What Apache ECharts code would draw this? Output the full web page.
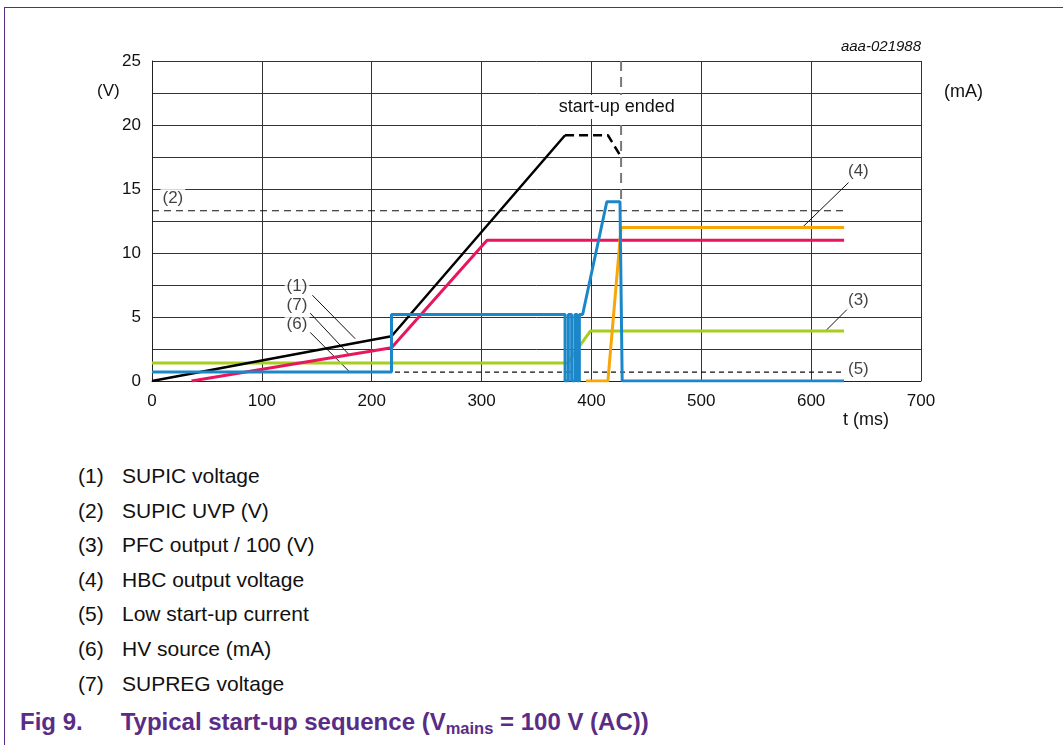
<!DOCTYPE html>
<html>
<head>
<meta charset="utf-8">
<script src="https://cdn.jsdelivr.net/npm/echarts@6/dist/echarts.min.js"></script>
<style>
  body { margin: 0; background: #fff; font-family: "Liberation Sans", Arial, sans-serif; }
  #frame { position: absolute; left: 4px; top: 7px; width: 1070px; height: 740px;
           border-top: 1px solid #5b2c86; border-left: 1px solid #5b2c86; }
  #chart { position: absolute; left: 0; top: 0; width: 1063px; height: 445px; }
  .notes { position: absolute; left: 78px; top: 464px; font-size: 21px; color: #111; }
  .notes div { height: 34.6px; white-space: nowrap; }
  .notes span { display: inline-block; width: 44px; }
  #caption { position: absolute; left: 20px; top: 708px; font-size: 24px; font-weight: bold;
             color: #5b2c86; white-space: nowrap; }
  #caption sub { font-size: 16.5px; vertical-align: -4px; }
</style>
</head>
<body>
<div id="frame"></div>
<div id="chart"></div>
<div class="notes" id="notes"></div>
<div id="caption">Fig 9.<span style="display:inline-block;width:38px"></span>Typical start-up sequence (V<sub>mains</sub> = 100 V (AC))</div>
<script>
// time axis (ms), voltage axis (V / mA)
var timeTicks = [0, 100, 200, 300, 400, 500, 600, 700];
var voltTicks = [0, 5, 10, 15, 20, 25];

// curves, [t (ms), value]
var supicVoltage = [[0, 0], [218, 3.5], [376, 19.2]];
var supicVoltageEnd = [[376, 19.2], [415, 19.2], [427, 17.5]];
var supregVoltage = [[36, 0], [218, 2.6], [305, 11], [630, 11]];
var pfcOutput = [[0, 1.4], [378, 1.4], [399, 3.9], [630, 3.9]];
var hbcOutput = [[395, 0], [415, 0], [427, 12], [630, 12]];
var hvSource = [[0, 0.7], [218, 0.7], [218, 5.2], [376, 5.2], [376, 0], [379, 0], [379, 5.2],
                [382, 5.2], [382, 0], [385, 0], [385, 5.2], [387, 5.2], [387, 0], [389, 0],
                [389, 5.2], [392, 5.2], [414, 14], [426, 14], [428, 0], [630, 0]];
var supicUvp = [[0, 13.3], [630, 13.3]];
var lowStartCurrent = [[0, 0.7], [630, 0.7]];
var startupEnded = [[427, 25], [427, 14]];
var startupEndedLabel = [423, 21.4];

// callouts
var calloutText = ['(1)', '(7)', '(6)', '(2)', '(4)', '(3)', '(5)'];
var calloutPos = [[132, 7.4], [132, 5.9], [132, 4.4], [19, 14.3], [643, 16.4], [643, 6.3], [643, 0.94]];
var leaderLines = [
  [[146, 6.7], [185, 3.3]],
  [[144, 5.3], [180, 2.0]],
  [[144, 3.8], [180, 0.7]],
  [[634, 15.5], [592, 12]],
  [[634, 5.7], [613, 3.9]]
];

var noteItems = ['SUPIC voltage', 'SUPIC UVP (V)', 'PFC output / 100 (V)', 'HBC output voltage',
                 'Low start-up current', 'HV source (mA)', 'SUPREG voltage'];

var html = '';
for (var i = 0; i < noteItems.length; i++) {
  html += '<div><span>(' + (i + 1) + ')</span>' + noteItems[i] + '</div>';
}
document.getElementById('notes').innerHTML = html;

var myChart = echarts.init(document.getElementById('chart'));

function curve(data, color, width, dash) {
  return {
    type: 'line', data: data, symbol: 'none', animation: false, silent: true,
    lineStyle: { color: color, width: width, type: dash || 'solid' }
  };
}

var font = '"Liberation Sans", Arial, sans-serif';

option = {
  animation: false,
  grid: { left: 152, top: 61, width: 769, height: 320 },
  xAxis: {
    type: 'value', min: 0, max: 700, interval: 100,
    axisLine: { show: true, onZero: false, lineStyle: { color: '#222', width: 1 } },
    axisTick: { show: false },
    splitLine: { lineStyle: { color: '#333', width: 1 } },
    axisLabel: { color: '#111', fontSize: 17, fontFamily: font, margin: 12,
      formatter: function (v) { return timeTicks.indexOf(v) >= 0 ? v : ''; } }
  },
  yAxis: {
    type: 'value', min: 0, max: 25, interval: 2.5,
    axisLine: { show: true, lineStyle: { color: '#222', width: 1 } },
    axisTick: { show: false },
    splitLine: { lineStyle: { color: '#333', width: 1 } },
    axisLabel: { color: '#111', fontSize: 17, fontFamily: font, margin: 11,
      formatter: function (v) { return voltTicks.indexOf(v) >= 0 ? v : ''; } }
  },
  series: [
    curve(supicUvp, '#111', 1.2, [7, 5]),
    curve(lowStartCurrent, '#111', 1.2, [5, 4]),
    curve(startupEnded, '#777', 2, [10, 6]),
    curve(pfcOutput, '#a6ce1f', 3),
    curve(supregVoltage, '#e8175d', 3),
    curve(supicVoltage, '#000', 2.5),
    curve(supicVoltageEnd, '#000', 2.5, [9, 5]),
    curve(hbcOutput, '#f7a70a', 3),
    curve(hvSource, '#1b87c9', 3),
    {
      type: 'lines', coordinateSystem: 'cartesian2d', silent: true, animation: false,
      lineStyle: { color: '#111', width: 1, opacity: 1 },
      data: leaderLines.map(function (c) { return { coords: c }; })
    },
    {
      type: 'scatter', symbolSize: 0, silent: true, animation: false, z: 20,
      data: calloutPos.map(function (p, i) { return [p[0], p[1], calloutText[i]]; }),
      label: {
        show: true, position: 'inside', color: '#111', fontSize: 17, fontFamily: font,
        backgroundColor: '#fff', padding: [1, 2],
        formatter: function (p) { return p.data[2]; }
      }
    }
  ]
};
myChart.setOption(option);

// texts on top, the label box has to hide the dashed marker and gridline
var lp = myChart.convertToPixel({ gridIndex: 0 }, startupEndedLabel);
myChart.setOption({
  graphic: [
    { type: 'text', left: 97, top: 83, style: { text: '(V)', fontSize: 17, fontFamily: font, fill: '#111' } },
    { type: 'text', left: 944, top: 83, style: { text: '(mA)', fontSize: 18, fontFamily: font, fill: '#111' } },
    { type: 'text', left: 843, top: 411, style: { text: 't (ms)', fontSize: 18, fontFamily: font, fill: '#111' } },
    { type: 'text', right: 142, top: 39, style: { text: 'aaa-021988', fontSize: 15, fontStyle: 'italic', fontFamily: font, fill: '#111' } },
    { type: 'text', x: lp[0], y: lp[1], z: 100,
      style: { text: 'start-up ended', fontSize: 18, fontFamily: font, fill: '#111',
               align: 'center', verticalAlign: 'middle', backgroundColor: '#fff', padding: [3, 5] } }
  ]
});
</script>
</body>
</html>
